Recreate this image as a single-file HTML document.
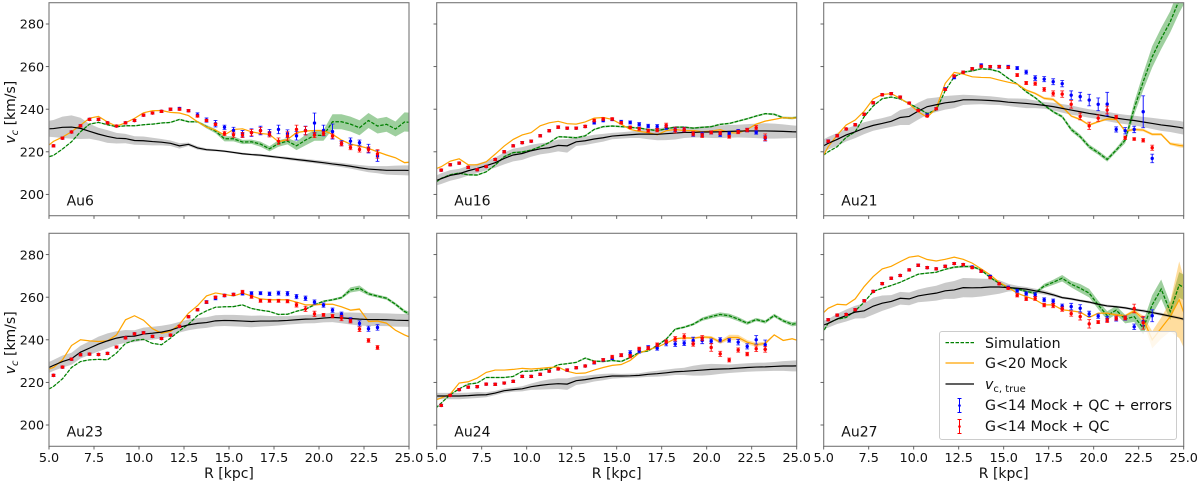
<!DOCTYPE html>
<html>
<head>
<meta charset="utf-8">
<style>
html,body{margin:0;padding:0;background:#fff;}
svg{display:block;font-family:"DejaVu Sans","Liberation Sans",sans-serif;filter:blur(0.35px);}
</style>
</head>
<body>
<svg id="chart" xmlns="http://www.w3.org/2000/svg" width="1200" height="483" viewBox="0 0 1200 483">
  <defs id="clips"></defs>
  <g id="panels"></g>
  <g>
    <rect x="939.5" y="331.5" width="237" height="108" rx="2.5" fill="#fff" fill-opacity="0.8" stroke="#ccc" stroke-width="1"/>
    <line x1="945.5" x2="974" y1="342.6" y2="342.6" stroke="#008000" stroke-width="1.25" stroke-dasharray="3.5 1.5"/>
    <text x="985" y="347.8" font-size="14.2" fill="#111">Simulation</text>
    <line x1="945.5" x2="974" y1="363" y2="363" stroke="#ffa500" stroke-width="1.2"/>
    <text x="985" y="368.2" font-size="14.2" fill="#111">G&lt;20 Mock</text>
    <line x1="945.5" x2="974" y1="384" y2="384" stroke="#000" stroke-width="1.2"/>
    <text x="985" y="389" font-size="14.2" fill="#111"><tspan font-style="italic">v</tspan><tspan dy="3" font-size="10">c, true</tspan></text>
    <g stroke="#0000ff" stroke-width="1" fill="#0000ff">
      <line x1="959.5" x2="959.5" y1="398.5" y2="412.5"/><line x1="957.5" x2="961.5" y1="398.5" y2="398.5"/><line x1="957.5" x2="961.5" y1="412.5" y2="412.5"/><circle cx="959.5" cy="405.5" r="1.3" stroke="none"/>
    </g>
    <text x="985" y="410" font-size="14.2" fill="#111">G&lt;14 Mock + QC + errors</text>
    <g stroke="#ff0000" stroke-width="1" fill="#ff0000">
      <line x1="959.5" x2="959.5" y1="419.5" y2="433.5"/><line x1="957.5" x2="961.5" y1="419.5" y2="419.5"/><line x1="957.5" x2="961.5" y1="433.5" y2="433.5"/><circle cx="959.5" cy="426.5" r="1.3" stroke="none"/>
    </g>
    <text x="985" y="431" font-size="14.2" fill="#111">G&lt;14 Mock + QC</text>
  </g>
</svg>
<script>
const lineRadii = [4.75,5.25,5.75,6.25,6.75,7.25,7.75,8.25,8.75,9.25,9.75,10.25,10.75,11.25,11.75,12.25,12.75,13.25,13.75,14.25,14.75,15.25,15.75,16.25,16.75,17.25,17.75,18.25,18.75,19.25,19.75,20.25,20.75,21.25,21.75,22.25,22.75,23.25,23.75,24.25,24.75,25.25];
const pointRadii = [5.25,5.75,6.25,6.75,7.25,7.75,8.25,8.75,9.25,9.75,10.25,10.75,11.25,11.75,12.25,12.75,13.25,13.75,14.25,14.75,15.25,15.75,16.25,16.75,17.25,17.75,18.25,18.75,19.25,19.75,20.25,20.75,21.25,21.75,22.25,22.75,23.25];
const xTicks = [5,7.5,10,12.5,15,17.5,20,22.5,25];
const xTickLabels = ['5.0','7.5','10.0','12.5','15.0','17.5','20.0','22.5','25.0'];
const yTicks = [200,220,240,260,280];
const yTickLabels = ['200','220','240','260','280'];

const au6Sim = [217.1,218.3,221.3,224.7,229.4,233,233.8,232.7,231.8,232.2,232.2,232.7,233,233.5,233.8,235.2,234.1,234.1,231.8,229.7,226.1,226.1,224.6,224.7,223.6,221.4,223.9,225,222.8,225.5,227.7,227.7,234.1,234.1,233,231.3,234.7,232.1,232.9,230.7,234,233.8];
const au6SimErr = [.2,.2,.2,.2,.2,.3,.3,.3,.3,.3,.3,.3,.3,.3,.3,.4,.4,.4,.8,1,1.2,1.2,1,1,1.2,1.2,1.5,1.5,2,2.5,2.5,2.5,3.5,3.5,3.5,3.5,3.5,3.5,3.5,3.5,4.5,4.5];
const au6Mock = [221.5,224.9,226.9,229.4,232.5,235.8,236.6,234,232,233.6,235.7,238.3,239.3,239.4,238.5,238.2,237,234.1,231.6,230.2,227.9,230.5,230.8,229.4,228.6,228.2,224.7,225.8,229,229.7,230,230,228.2,225.5,223.6,222.7,221.6,220,218.5,217.2,214.9,215.3];
const au6MockErr = [.2,.2,.2,.2,.2,.2,.2,.2,.2,.2,.2,.2,.2,.2,.2,.2,.2,.2,.2,.2,.2,.2,.2,.2,.2,.2,.3,.3,.3,.3,.3,.3,.3,.3,.3,.3,.3,.3,.3,.3,.4,.4];
const au6True = [230.7,230.9,231.5,231.6,231,229.6,228.3,227.2,226.4,226.2,225.3,225.2,224.8,224.5,224,222.8,223.5,221.8,221,220.7,220.3,219.7,219.1,218.7,218.4,217.9,217.4,216.9,216.4,215.9,215.4,214.9,214.3,213.8,213.2,212.5,211.9,211.6,211.3,211.3,211.3,211.2];
const au6TrueErr = [3.5,4,5,5.5,5,3.5,3,3,2.5,2.2,2,2,1.8,1.5,1.3,1.3,.8,.8,.6,.5,.5,.5,.5,.5,.6,.6,.6,.7,.7,.8,.8,.9,.9,1,1.1,1.3,1.5,1.7,2,2.2,2.3,2.4];
const au6Blue = [222.8,226.4,229.3,232.2,235.2,235.2,233.6,232.1,233.6,234.7,237.2,238.2,239,240,240.3,239.3,237.3,234.9,233.2,231.5,230,228.5,229,230,229,230.5,228.5,227.5,230,233.5,230,229.5,224,225,224.3,221.5,218];
const au6BlueErr = [.5,.5,.5,.5,.5,.5,.5,.5,.5,.5,.5,.5,.5,.5,.6,.5,1,1,1.5,1,1.5,1.5,1.8,2,1.5,2,1.8,2,2,4.7,2.5,3.5,1.2,1.5,1.2,2,2.5];
const au6Red = [222.8,226.4,229.3,232.2,235.2,235.2,233.6,232.1,233.6,234.7,237.2,238.2,239,240,240,239.3,236.8,234.7,232.9,228.6,228,227.9,229,229.9,228.2,225,227.4,230.5,229.9,227.9,228.6,227.4,223.8,222,221.1,221.1,219];
const au6RedErr = [.5,.5,.5,.5,.5,.5,.5,.5,.5,.5,.5,.5,.5,.5,.5,.5,.5,.5,.5,1,1.2,1.2,1.5,1.5,1.2,1.5,2,2,2,1.2,1,1,1,1,1.2,1.2,2];

const au16Sim = [204.5,207.5,209.2,210,209.2,209.1,210.6,213.8,217.7,219.6,219.9,220.8,222.4,224.3,227.1,226.9,226.6,227.5,230.5,231.8,232.1,231.8,231.5,231.1,230.5,229.9,230.8,231.6,231.6,231.1,231.5,231.8,232.9,233.3,234.4,235.5,236.8,237.9,237.6,236,235.8,236.5];
const au16SimErr = [.4,.4,.4,.4,.4,.4,.4,.4,.4,.4,.4,.4,.4,.4,.4,.4,.4,.4,.4,.4,.4,.4,.4,.4,.4,.4,.4,.4,.4,.4,.4,.4,.4,.4,.4,.4,.4,.4,.5,.5,.6,.6];
const au16Mock = [211.4,213,215.6,216.7,213.9,213.9,215.3,218.9,222.7,225.8,227.9,229,232.2,233.6,234.3,233.2,233,234,235.8,236.1,235.2,232.9,230.5,229.6,229,228,229.9,230.5,229.9,230,229.4,229.7,230.4,229,228.8,230.5,233,234.4,235.2,236,235.8,236.1];
const au16MockErr = [.2,.2,.2,.2,.2,.2,.2,.2,.2,.2,.2,.2,.2,.2,.2,.2,.2,.2,.2,.2,.2,.2,.2,.2,.2,.2,.2,.2,.2,.2,.2,.2,.2,.2,.2,.2,.3,.3,.3,.3,.3,.3];
const au16True = [205.8,207.4,208.9,209.7,211.1,212.2,213.5,214.9,216.9,218.5,219.2,220.5,221.4,221.9,223,222.8,224.7,225.2,226,226.6,227.4,227.7,228,228.3,228.3,228.2,228.5,228.8,229.1,229.1,229.3,229.3,229.4,229.6,229.7,229.8,229.8,229.8,229.7,229.6,229.4,229.3];
const au16TrueErr = [2.2,2.5,2.5,2.3,2.3,2.2,2.2,2.4,2.8,3,3,2.8,2.6,2.5,2.8,3.2,2,2,2,1.8,1.5,1.5,1.5,1.8,2.4,2.8,3,3,2.6,2.4,2.6,2.8,3,3,3,3.2,3.4,3.6,3.5,3.3,3,2.8];
const au16Blue = [211.4,213.9,214.7,212.7,211.6,213.1,216.4,220,222.8,224.3,225,227.5,229.9,231.6,231.1,231.1,231.9,233.6,234.7,235.2,234.1,233.8,232.9,232.1,231.9,231.5,230.5,230.5,228.3,228.2,229.1,228,228.6,229.7,230.2,229.1,226.3];
const au16BlueErr = [.5,.5,.5,.5,.5,.5,.5,.5,.5,.5,.5,.5,.5,.5,.5,.5,.5,.6,.6,.6,.7,.7,.8,.8,.9,1,1,1,1,1,.7,.8,.7,.8,.8,.8,1.2];
const au16Red = [211.4,213.9,214.7,212.7,211.6,213.1,216.4,220,222.8,224.3,225,227.5,229.9,231.6,231.1,231.1,231.9,234.7,235.4,235.4,233.6,231.5,230.8,229.9,230.2,232.4,230.2,230.4,228.5,227.7,229.1,228.8,227.1,229.3,230.2,231.3,226.8];
const au16RedErr = [.5,.5,.5,.5,.5,.5,.5,.5,.5,.5,.5,.5,.5,.6,.5,.5,.6,.6,.6,.6,.6,.6,.7,.7,.8,1,1.3,1,1,1,.7,.8,.7,.8,.8,1,1.6];

const au21Sim = [217,220,222.4,226.8,229.4,236.5,241.5,244.9,245.7,244.8,242.7,240.4,238,239.6,248.7,255.2,257.4,258,259,258.7,257.6,254.5,251.8,248.2,245.4,241.9,238.8,236.5,230.5,227.1,222.4,219.6,216.4,220.8,225.5,240.4,252.9,264.6,273.2,281,291.2,299];
const au21SimErr = [.2,.2,.2,.3,.3,.3,.3,.3,.3,.3,.3,.3,.3,.3,.3,.3,.4,.4,.4,.4,.4,.4,.4,.5,.5,.5,.6,.7,1,1,1,1,1,1,1.5,3,4,5,5,5,6,6];
const au21Mock = [214.6,222.4,227.9,232.6,234.9,239.1,244.8,246.9,247.3,245.1,242.4,238.8,236.2,240.4,252.1,257.3,256.5,255.2,254.9,254.8,253.7,252.7,251.8,249,247.4,245.1,244.6,241.2,236.8,235.2,232.6,234.1,235.4,235.2,229.7,230.5,230.2,228.2,228.2,223.8,223,222.5];
const au21MockErr = [.2,.2,.2,.2,.2,.2,.2,.2,.2,.2,.2,.2,.2,.2,.2,.2,.2,.2,.2,.2,.2,.2,.3,.4,.5,.6,.7,.7,.5,.5,.5,.5,.5,.5,.6,.7,.7,.6,.6,.6,.9,.9];
const au21True = [221.6,224,225.8,227.9,229.4,231.1,232.4,233.3,234.3,236.1,236.6,239.1,241.2,242.1,243,243.5,244.4,244.4,244.3,244.1,243.8,243.3,243,242.7,242.3,241.8,241.2,240.4,239.6,238.8,238,237.4,236.6,235.8,235.2,234.7,234,233.3,232.6,232.1,231.5,230.7];
const au21TrueErr = [3,3,3,3,3,2.8,2.5,2.5,2.6,3.5,4,4,3.8,3.4,3.2,3,2.4,2.2,2,2,1.8,1.8,2,2.2,1.8,1.6,1.8,2,2.2,2,2,2,2.2,2.2,2.2,2.3,2.4,2.6,2.8,2.8,3,3];
const au21Blue = [225,227.5,230.7,232.7,237.6,243,246.8,247.3,245.7,242.9,239.4,237.2,240.2,249.5,254.9,257.4,259,260.7,259.9,259.9,259.9,259.3,257.4,254.6,254.1,252.9,252,246.6,245.9,244.3,242.3,242.4,230.5,229.9,230.5,238.8,216.9];
const au21BlueErr = [.6,.5,.5,.5,.5,.5,.5,.5,.5,.5,.5,.6,.5,.6,.6,.5,.5,.6,.6,.7,.7,.7,.9,1.1,1.2,1.4,1.5,2,2,2.7,3,5.5,1.2,1.5,1.5,7.5,2];
const au21Red = [225,227.5,230.7,232.7,237.6,243,246.8,247.3,245.7,242.9,239.4,236.8,240.2,249.3,255.6,257.4,259,260.1,260,260,259.6,256,252.3,252,249.3,247.4,247.1,242.3,236.6,232.2,235.8,239.6,236.3,226.6,226,225.4,221.9];
const au21RedErr = [.5,.5,.5,.5,.5,.5,.5,.5,.5,.5,.5,.5,.5,.5,.5,.5,.5,.5,.5,.5,.5,.7,.7,.8,.9,1.2,1.5,1.8,1.6,1.7,1.5,1.8,.8,.8,.6,.8,1.2];

const au23Sim = [215.7,218.1,221.7,227,229.8,230.6,230.8,230.6,233.8,238.3,239.8,240.2,238.3,237.7,240.8,244.2,247.3,251.4,253.6,255.3,255.5,255.6,256.4,254.7,253.9,253.3,251.9,252,253.4,254.4,256.4,258.1,258.8,259.8,263.4,264.2,261.6,260.5,259.5,256.7,253.3,251.4];
const au23SimErr = [.2,.2,.2,.2,.2,.2,.2,.2,.2,.2,.2,.2,.2,.2,.2,.2,.2,.2,.2,.2,.2,.3,.3,.3,.3,.3,.3,.3,.3,.4,.4,.4,.5,.6,1.2,1.3,.8,.7,.7,.7,.8,.9];
const au23Mock = [225.6,227,230.6,237.3,240,239.5,239.2,239.5,242.3,249.4,251.3,249.2,245.2,243.1,243.9,247.3,252.5,256,260.6,262,261.3,260.6,261.9,260.6,259.2,258.8,258.8,258.8,257.7,256.4,256.4,256.7,256.7,255.5,253.9,254.4,248.6,248.8,247.8,244.5,242.3,240.5];
const au23MockErr = [.2,.2,.2,.2,.2,.2,.2,.2,.2,.2,.2,.2,.2,.2,.2,.2,.2,.2,.2,.2,.2,.2,.2,.2,.2,.2,.2,.2,.2,.2,.3,.3,.3,.3,.4,.5,.4,.4,.3,.3,.3,.3];
const au23True = [226,228,229.8,231.1,234.2,236.1,238,239.5,240.8,241.6,241.7,242.7,243.1,243.6,244.5,245.9,247,247.7,248.1,248.9,249.1,249,248.8,248.6,248.8,248.8,248.9,249.1,249.4,249.7,249.8,250.2,250.5,250.3,250,249.7,249.5,249.5,249.4,249.2,249.1,249];
const au23TrueErr = [2.5,2.6,2.8,2.8,3,3.2,3.5,3.5,3.2,3,2.8,3,3,3,2.8,2.5,2.5,2.5,2.5,2.6,2.6,2.7,2.7,2.7,2.6,2.4,2.2,2,2,2,2,2,2.2,2.5,2.8,3,3,3,3,3,3,3];
const au23Blue = [223.3,227.2,230.9,233,233.3,233.1,233.6,236.6,240.9,242.8,243.3,241.6,240.6,242.2,246.3,250.8,254.1,257.7,259.5,260.8,261.3,261.7,261.9,261.9,261.6,261.9,261.7,260.3,259.5,257.7,256.3,253.9,252,249.4,247.7,245.2,245.8];
const au23BlueErr = [.5,.5,.5,.5,.5,.5,.5,.5,.5,.5,.5,.5,.5,.5,.5,.5,.5,.7,.7,.6,.6,.7,.7,.7,.8,.9,1,1,1,1,1,1,1,1,1.2,1.2,1.3];
const au23Red = [223.3,227.2,230.9,233,233.3,233.1,233.6,236.6,240.9,242.8,243.3,241.6,240.6,242.2,246.3,250.8,254.1,257.7,260,260.8,261.3,262.5,260.2,258.3,258.3,258.3,258.1,256.4,254.5,252.2,251.7,251.1,250.2,248.8,245,239.7,236.4];
const au23RedErr = [.5,.5,.5,.5,.5,.5,.5,.5,.5,.5,.5,.5,.5,.5,.5,.5,.5,.5,.5,.5,.5,.7,.7,.7,.7,.7,.7,1,1.2,1.2,.7,.8,1.2,.9,1.1,.9,.9];

const au24Sim = [206.3,210.3,214.2,217,219.2,219.7,222.3,222.3,222.3,222.8,225.2,225.3,225.8,226.3,228.3,228.8,229.4,231.4,230,229.8,230.3,229.8,231.7,234.1,234.8,237.3,240.3,245,245.9,247.3,249.7,250.9,251.9,251.3,249.7,247.8,249.5,248.4,251.4,248.9,247.3,248];
const au24SimErr = [.2,.2,.3,.3,.3,.3,.3,.3,.3,.3,.3,.3,.3,.3,.3,.3,.3,.4,.4,.4,.4,.4,.4,.4,.4,.4,.5,.5,.5,.6,.8,.9,1,1,1,.8,.8,.8,.8,.8,1,1];
const au24Mock = [211.1,212.7,214.5,219.7,220.3,222,224.7,225.8,225.8,226.1,226.6,226.3,226.6,227,227.2,225.2,224.2,224.4,225.8,227,228,228.4,230.3,233.8,235.3,236.6,238.4,240.5,240.9,240.8,241.3,241.1,238.9,241.1,241.1,238.9,237.7,238.3,242.3,239.7,240.5,239.2];
const au24MockErr = [.2,.2,.2,.2,.2,.2,.2,.2,.2,.2,.2,.2,.2,.2,.2,.2,.2,.2,.2,.2,.2,.2,.2,.2,.2,.2,.3,.3,.3,.4,.6,.7,.8,1.3,1.2,1,1,.8,.3,.3,.3,.3];
const au24True = [213.6,213.6,213.6,213.6,213.8,214.1,214.2,215,216.1,216.6,217,218,218.6,219.1,219.4,219.2,220.8,221.3,222,222.5,223,223,223.1,223.3,223.8,224.1,224.5,225,225.2,225.5,225.8,226.1,226.3,226.4,226.7,227,227.2,227.3,227.5,227.7,227.7,227.8];
const au24TrueErr = [1.5,1.5,1.5,1.5,1.4,1.4,1.2,1,1,1,1.2,1.5,2,2.3,2.5,2.7,2,1.8,1.6,1.5,1.2,1,1,1,1.2,1.4,1.5,1.5,1.7,2.3,2.6,2.6,2.3,2,2,2,2,2,2.1,2.3,2.5,2.7];
const au24Blue = [209.2,213.9,216.6,217.8,218,219.2,219.1,219.7,220.5,222.8,222.8,223.8,225.3,226.3,225.8,226.9,227.7,229.2,230.5,231.3,232.8,233.9,234.8,236.4,236.1,238.4,238,238.4,239.7,239.7,239.4,240,239.7,238.9,236.9,240,237.7];
const au24BlueErr = [.5,.5,.5,.5,.5,.5,.5,.5,.5,.5,.5,.5,.5,.5,.6,.5,.5,.6,.6,.6,.6,1,1,.9,1,1.2,1.1,1.1,1.5,1.5,1,1,.8,1.3,1.2,2,2.2];
const au24Red = [209.2,213.9,216.6,217.8,218,219.2,219.1,219.7,220.5,222.8,222.8,223.8,225.3,226.3,225.8,226.9,227.7,229.4,230.6,232,232.8,232.3,235.8,236.1,237.7,239.2,240.5,241.6,238,240.8,236.4,233.4,230.5,235.2,233.3,235.8,235.5];
const au24RedErr = [.5,.5,.5,.5,.5,.5,.5,.5,.5,.5,.5,.5,.5,.5,.5,.5,.5,.6,.6,.7,.7,.8,.7,.7,.8,.8,1,1.2,1,1.2,1.8,1.2,.9,1,.8,1.3,1.3];

const au27Sim = [240.6,247.8,249.7,250.5,253.6,257.7,262.7,264.2,265.5,267,268.9,270.8,271.3,271.7,273.1,274.1,274.4,274.4,272.8,269.2,266.6,264.5,263.9,262.7,261.9,265.3,267,268.9,266.1,264.2,261.9,256.4,251.4,253.9,249.7,250.9,245.5,256.4,263.8,253.3,265.8,263.4];
const au27SimErr = [.3,.3,.3,.3,.3,.3,.3,.3,.3,.3,.3,.3,.3,.3,.4,.5,.5,.5,.5,.5,.5,.5,.5,.6,.7,1,1.2,1.5,1.5,2,2,2,2,2,2,2.5,3,4.5,4.5,4,6,6];
const au27Mock = [250.8,254.8,256.7,256.4,259.2,265,269.7,273.3,274.5,276.7,278.8,279.4,277.7,277,277.8,278.8,277.8,276,273.3,270.5,267,264.6,261.9,260.3,258.8,256.4,256.4,254.1,253.6,253,250.5,252.5,252.5,251.7,251.3,253.6,249.8,240,245.5,250.9,258.8,247];
const au27MockErr = [.2,.2,.2,.2,.2,.2,.2,.2,.2,.2,.2,.2,.2,.2,.2,.2,.2,.2,.2,.2,.2,.2,.2,.2,.2,.2,.3,.3,.3,.3,.4,.4,.4,.5,.5,.8,1.5,4,5,7,18,15];
const au27True = [246.3,247.7,249.8,251.4,253,253.6,255.8,257.2,258,259.5,259.2,260.6,261.3,261.9,263,263.4,264.5,264.4,264.5,264.8,264.8,264.5,264.2,263.8,263,262.2,261.1,259.8,259.2,258.4,257.7,256.7,255.9,255.5,255,254.2,253.6,252.8,252,251.1,250.2,249.2];
const au27TrueErr = [2,2,2.4,2.8,3,3.5,4,3.6,3,3,3,3,3.3,3.5,3.8,4.2,4.5,4.5,4.2,3.8,3.2,1.8,1.2,1,1,1,.8,.6,.6,.6,.6,.6,.6,.6,.6,.6,.7,.7,.7,.7,.7,.7];
const au27Blue = [249.4,251.6,251.9,254.1,258.3,262.7,266.4,268.9,270.2,272.8,275,273.9,273.3,274.5,275.8,275.3,274.2,272.2,269.7,266.3,264.6,263,261.7,261.2,258.8,258.1,255.8,255.6,254.8,252.2,251.1,249.8,249.8,250.2,246.1,248.6,251.3];
const au27BlueErr = [.5,.5,.5,.5,.5,.5,.5,.5,.5,.5,.6,.5,.5,.5,.5,.5,.5,.5,.6,.5,.6,.7,.8,.9,.9,1,1,1.5,1.7,1.2,1,1.2,1,1,1.3,2,2.8];
const au27Red = [249.4,251.6,251.9,254.1,258.3,262.7,266.4,268.9,270.2,272.8,275,273.9,273.3,274.5,275.8,275.3,273.9,272.2,269.2,266.3,264.2,260.9,259.2,259.4,256.3,256.1,254.4,252.3,250.9,247.5,248.3,249.1,250.2,250.2,254.7,248,null];
const au27RedErr = [.5,.5,.5,.5,.5,.5,.5,.5,.5,.5,.5,.5,.5,.5,.5,.5,.5,.5,.5,.5,.5,.8,.8,.9,.8,1,1,1.2,1.6,2,.7,1,1,.8,2,3,0];

const panelNames = ['Au6','Au16','Au21','Au23','Au24','Au27'];
const simSeries = [au6Sim,au16Sim,au21Sim,au23Sim,au24Sim,au27Sim];
const simErrors = [au6SimErr,au16SimErr,au21SimErr,au23SimErr,au24SimErr,au27SimErr];
const mockSeries = [au6Mock,au16Mock,au21Mock,au23Mock,au24Mock,au27Mock];
const mockErrors = [au6MockErr,au16MockErr,au21MockErr,au23MockErr,au24MockErr,au27MockErr];
const trueSeries = [au6True,au16True,au21True,au23True,au24True,au27True];
const trueErrors = [au6TrueErr,au16TrueErr,au21TrueErr,au23TrueErr,au24TrueErr,au27TrueErr];
const blueSeries = [au6Blue,au16Blue,au21Blue,au23Blue,au24Blue,au27Blue];
const blueErrors = [au6BlueErr,au16BlueErr,au21BlueErr,au23BlueErr,au24BlueErr,au27BlueErr];
const redSeries = [au6Red,au16Red,au21Red,au23Red,au24Red,au27Red];
const redErrors = [au6RedErr,au16RedErr,au21RedErr,au23RedErr,au24RedErr,au27RedErr];

const NS = 'http://www.w3.org/2000/svg';
const colLeft = [49, 436.7, 823.7];
const rowTop = [2.7, 233.3];
const plotW = 360, plotH = 213;
const xMin = 5, xMax = 25, yMin = 190, yMax = 290;
const root = document.getElementById('panels');
const clipDefs = document.getElementById('clips');

function make(tag, parent, attrs) {
  const el = document.createElementNS(NS, tag);
  for (const k in attrs) el.setAttribute(k, attrs[k]);
  parent.appendChild(el);
  return el;
}

panelNames.forEach(function (name, p) {
  const col = p % 3, row = Math.floor(p / 3);
  const L = colLeft[col], T = rowTop[row];
  const sx = function (r) { return L + (r - xMin) / (xMax - xMin) * plotW; };
  const sy = function (v) { return T + plotH - (v - yMin) / (yMax - yMin) * plotH; };
  const slug = name.toLowerCase();

  const g = make('g', root, {});
  
  

  const clip = make('clipPath', clipDefs, { id: 'clip-' + p });
  make('rect', clip, { x: L, y: T, width: plotW, height: plotH });
  const plot = make('g', g, { 'clip-path': 'url(#clip-' + p + ')' });
  
  

  const linePath = function (vals) {
    return vals.map(function (v, i) { return (i ? 'L' : 'M') + sx(lineRadii[i]).toFixed(2) + ' ' + sy(v).toFixed(2); }).join('');
  };
  const bandPath = function (vals, errs) {
    let up = '', down = '';
    vals.forEach(function (v, i) { up += (i ? 'L' : 'M') + sx(lineRadii[i]).toFixed(2) + ' ' + sy(v + errs[i]).toFixed(2); });
    for (let i = vals.length - 1; i >= 0; i--) down += 'L' + sx(lineRadii[i]).toFixed(2) + ' ' + sy(vals[i] - errs[i]).toFixed(2);
    return up + down + 'Z';
  };

  const trueBand = make('path', plot, { d: bandPath(trueSeries[p], trueErrors[p]), fill: '#808080', 'fill-opacity': 0.42 });
  
  
  const simBand = make('path', plot, { d: bandPath(simSeries[p], simErrors[p]), fill: '#008000', 'fill-opacity': 0.38 });
  
  
  const mockBand = make('path', plot, { d: bandPath(mockSeries[p], mockErrors[p]), fill: '#ffa500', 'fill-opacity': 0.38 });
  
  

  const simLine = make('path', plot, { d: linePath(simSeries[p]), fill: 'none', stroke: '#008000', 'stroke-width': 1.25, 'stroke-dasharray': '3.5 1.5' });
  
  
  const mockLine = make('path', plot, { d: linePath(mockSeries[p]), fill: 'none', stroke: '#ffa500', 'stroke-width': 1.2 });
  
  
  const trueLine = make('path', plot, { d: linePath(trueSeries[p]), fill: 'none', stroke: '#000', 'stroke-width': 1.2 });
  
  

  const drawPoints = function (vals, errs, color, label) {
    vals.forEach(function (v, i) {
      if (v === null) return;
      const x = sx(pointRadii[i]), y = sy(v), y1 = sy(v + errs[i]), y2 = sy(v - errs[i]);
      const pt = make('g', plot, { stroke: color, 'stroke-width': 0.9, fill: color });
      
      
      make('line', pt, { x1: x, x2: x, y1: y1, y2: y2 });
      make('line', pt, { x1: x - 1.9, x2: x + 1.9, y1: y1, y2: y1, 'stroke-opacity': 0.8 });
      make('line', pt, { x1: x - 1.9, x2: x + 1.9, y1: y2, y2: y2, 'stroke-opacity': 0.8 });
      make('circle', pt, { cx: x, cy: y, r: 1.7, stroke: 'none' });
    });
  };
  drawPoints(blueSeries[p], blueErrors[p], '#0000ff', 'blue-qc-errors');
  drawPoints(redSeries[p], redErrors[p], '#ff0000', 'red-qc');

  const frame = make('rect', g, { x: L, y: T, width: plotW, height: plotH, fill: 'none', stroke: '#777', 'stroke-width': 1.1 });
  
  

  xTicks.forEach(function (t, i) {
    const tick = make('line', g, { x1: sx(t), x2: sx(t), y1: T + plotH, y2: T + plotH + 3.2, stroke: '#555', 'stroke-width': 0.9 });
    
    
    if (row === 1) {
      const lab = make('text', g, { x: sx(t), y: T + plotH + 15.6, 'font-size': 12.8, 'text-anchor': 'middle', fill: '#111' });
      
      
      lab.textContent = xTickLabels[i];
    }
  });
  yTicks.forEach(function (t, i) {
    const tick = make('line', g, { x1: L - 3.2, x2: L, y1: sy(t), y2: sy(t), stroke: '#555', 'stroke-width': 0.9 });
    
    
    if (col === 0) {
      const lab = make('text', g, { x: L - 4.8, y: sy(t) + 4.7, 'font-size': 12.8, 'text-anchor': 'end', fill: '#111' });
      
      
      lab.textContent = yTickLabels[i];
    }
  });

  if (row === 1) {
    const xt = make('text', g, { x: L + plotW / 2, y: 478, 'font-size': 14, 'text-anchor': 'middle', fill: '#111' });
    
    
    xt.textContent = 'R [kpc]';
  }
  if (col === 0) {
    const cy = T + plotH / 2 + 3;
    const yt = make('text', g, { transform: 'translate(15 ' + cy + ') rotate(-90)', 'font-size': 14, 'text-anchor': 'middle', fill: '#111' });
    
    
    const v = make('tspan', yt, { 'font-style': 'italic' });
    v.textContent = 'v';
    const c = make('tspan', yt, { 'font-style': 'italic', 'font-size': 10, dy: 3 });
    c.textContent = 'c';
    const unit = make('tspan', yt, { dy: -3 });
    unit.textContent = ' [km/s]';
  }

  const tag = make('text', g, { x: L + 17.6, y: T + plotH - 10, 'font-size': 14, fill: '#111' });
  
  
  tag.textContent = name;
});
</script>
</body>
</html>
